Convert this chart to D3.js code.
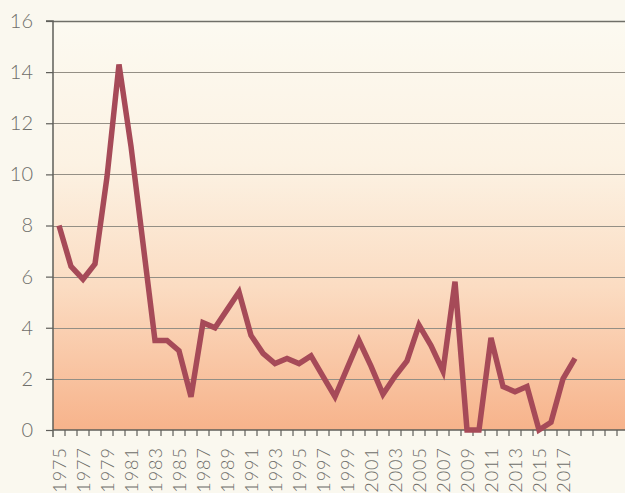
<!DOCTYPE html>
<html>
<head>
<meta charset="utf-8">
<script src="https://cdn.jsdelivr.net/npm/d3@7"></script>
<style>
  html, body { margin: 0; padding: 0; background: #faf8ef; }
  svg { display: block; }
  text { font-family: "Lato", "Open Sans", sans-serif; font-weight: 300; fill: #6e6e6a; }
</style>
</head>
<body>
<svg id="chart" width="625" height="493"></svg>
<script>
const years = d3.range(1975, 2023);           // category slots on the axis
const dataYears = d3.range(1975, 2019);
const values = [8.0, 6.4, 5.9, 6.5, 9.9, 14.3, 11.1, 7.3, 3.5, 3.5,
                3.1, 1.3, 4.2, 4.0, 4.7, 5.4, 3.7, 3.0, 2.6, 2.8,
                2.6, 2.9, 2.1, 1.3, 2.4, 3.5, 2.5, 1.4, 2.1, 2.7,
                4.1, 3.3, 2.3, 5.8, 0.0, 0.0, 3.6, 1.7, 1.5, 1.7,
                0.0, 0.3, 2.0, 2.8];
const yTicks = [0, 2, 4, 6, 8, 10, 12, 14, 16];
const xLabels = years.filter(y => y % 2 === 1 && y <= 2017);

const svg = d3.select("#chart");
const mLeft = 53, mRight = 629, mTop = 21, mBottom = 430;

const x = d3.scaleBand().domain(years).range([mLeft, mRight]).paddingInner(0).paddingOuter(0);
const y = d3.scaleLinear().domain([0, 16]).range([mBottom, mTop]);

// gradient background of plot
const defs = svg.append("defs");
const grad = defs.append("linearGradient").attr("id", "bg").attr("x1", 0).attr("y1", 0).attr("x2", 0).attr("y2", 1);
[["0%", "#fcfaf1"], ["35%", "#fcf2e3"], ["65%", "#fbdcc2"], ["100%", "#f7b38b"]]
  .forEach(([o, c]) => grad.append("stop").attr("offset", o).attr("stop-color", c));
svg.append("rect").attr("x", mLeft).attr("y", mTop).attr("width", mRight - mLeft).attr("height", mBottom - mTop)
  .attr("fill", "url(#bg)");

// gridlines
svg.append("g").selectAll("line").data(yTicks.filter(t => t > 0)).join("line")
  .attr("x1", mLeft).attr("x2", 625)
  .attr("y1", d => Math.round(y(d)) + 0.5).attr("y2", d => Math.round(y(d)) + 0.5)
  .attr("stroke", d => d === 16 ? "#6f6f68" : "#948f85").attr("stroke-width", d => d === 16 ? 1.5 : 1);

// y axis
const yAxis = d3.axisLeft(y).tickValues(yTicks).tickSize(7).tickPadding(13).tickFormat(d3.format("d"));
const gy = svg.append("g").attr("transform", `translate(${mLeft},0)`).call(yAxis);
gy.select(".domain").attr("stroke", "#5f5f5a").attr("stroke-width", 1.5)
  .attr("d", `M-7,${mTop}H0V${mBottom + 7}`);
gy.selectAll(".tick line").attr("stroke", "#5f5f5a").attr("stroke-width", 1.2);
gy.selectAll(".tick text").style("font-size", "20px").attr("fill", "#6e6e6a");

// x axis ticks between categories
const xAxisG = svg.append("g");
xAxisG.append("line").attr("x1", mLeft).attr("x2", 625).attr("y1", mBottom).attr("y2", mBottom)
  .attr("stroke", "#5f5f5a").attr("stroke-width", 1.5);
xAxisG.selectAll("line.t").data(years).join("line").attr("class", "t")
  .attr("x1", d => x(d) + x.bandwidth()).attr("x2", d => x(d) + x.bandwidth())
  .attr("y1", mBottom).attr("y2", mBottom + 6)
  .attr("stroke", "#5f5f5a").attr("stroke-width", 1.2);
xAxisG.selectAll("text").data(xLabels).join("text")
  .attr("transform", d => `translate(${x(d) + x.bandwidth() / 2 + 6.5},${mBottom + 17}) rotate(-90)`)
  .attr("text-anchor", "end")
  .style("font-size", "18px")
  .style("letter-spacing", "1px")
  .text(d => d);

// data line
const line = d3.line().x((d, i) => x(dataYears[i]) + x.bandwidth() / 2).y(d => y(d));
svg.append("path").datum(values).attr("d", line)
  .attr("fill", "none").attr("stroke", "#a64a58").attr("stroke-width", 5.5)
  .attr("stroke-linejoin", "miter").attr("stroke-linecap", "butt");
</script>
</body>
</html>
